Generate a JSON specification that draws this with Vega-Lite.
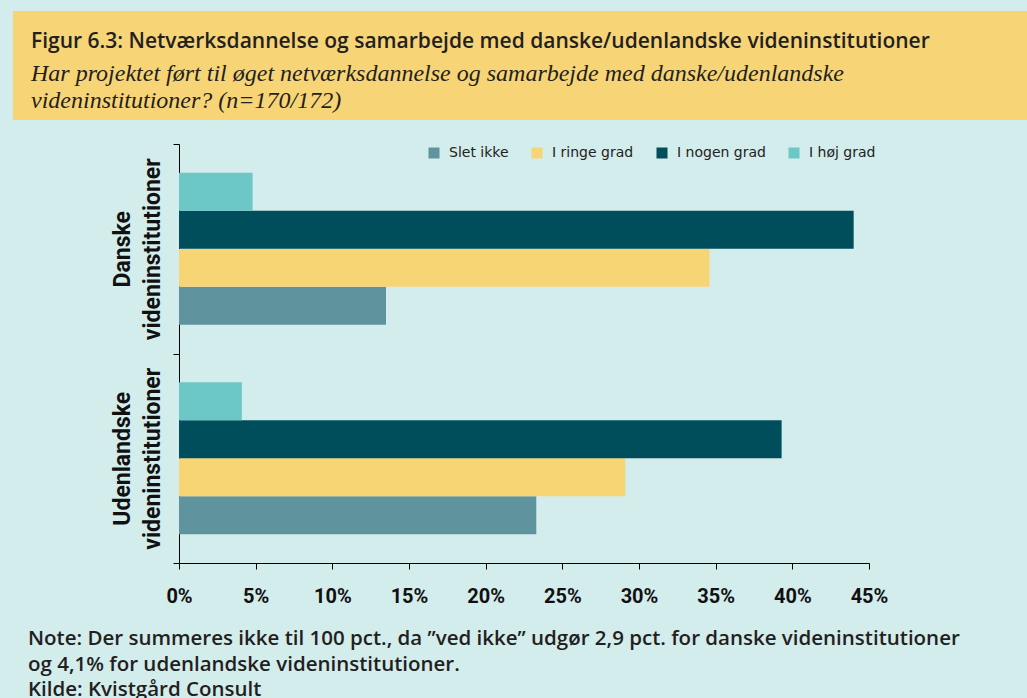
{
  "$schema": "https://vega.github.io/schema/vega-lite/v6.json",
  "background": "#d3ecec",
  "padding": {"left": 13, "top": 11, "right": 0, "bottom": 4},
  "spacing": 18,
  "resolve": {"legend": {"color": "independent"}},
  "config": {"view": {"stroke": null}},
  "title": {
    "text": ["Note: Der summeres ikke til 100 pct., da ”ved ikke” udgør 2,9 pct. for danske videninstitutioner", "og 4,1% for udenlandske videninstitutioner.", "Kilde: Kvistgård Consult"],
    "orient": "bottom", "anchor": "start", "frame": "bounds", "dx": 15, "offset": 23,
    "font": "Open Sans", "fontSize": 20.5, "fontWeight": 600, "lineHeight": 25.5, "color": "#231f20"
  },
  "vconcat": [
    {
      "width": 1014,
      "height": 109,
      "view": {"fill": "#f7d475", "stroke": null},
      "title": {
        "text": "Figur 6.3: Netværksdannelse og samarbejde med danske/udenlandske videninstitutioner",
        "subtitle": ["Har projektet ført til øget netværksdannelse og samarbejde med danske/udenlandske", "videninstitutioner? (n=170/172)"],
        "anchor": "start", "orient": "top", "frame": "group", "offset": -102, "dx": 18,
        "font": "Open Sans", "fontSize": 21, "fontWeight": 600, "color": "#231f20",
        "subtitleFont": "Liberation Serif", "subtitleFontSize": 24, "subtitleFontStyle": "italic",
        "subtitleColor": "#231f20", "subtitleLineHeight": 26.7, "subtitlePadding": 10
      },
      "data": {"values": [{"t": ""}]},
      "mark": {"type": "text"},
      "encoding": {"text": {"field": "t"}}
    },
    {
      "spacing": 0,
      "resolve": {"legend": {"color": "independent"}},
      "hconcat": [
        {
          "width": 1,
          "height": 1,
          "data": {"values": [{"t": ""}]},
          "mark": {"type": "text"},
          "encoding": {"text": {"field": "t"}}
        },
        {
          "width": 690,
          "height": 419,
          "data": {
            "values": [
              {"gruppe": "Danske videninstitutioner", "svar": "Slet ikke", "pct": 13.5},
              {"gruppe": "Danske videninstitutioner", "svar": "I ringe grad", "pct": 34.6},
              {"gruppe": "Danske videninstitutioner", "svar": "I nogen grad", "pct": 44.0},
              {"gruppe": "Danske videninstitutioner", "svar": "I høj grad", "pct": 4.8},
              {"gruppe": "Udenlandske videninstitutioner", "svar": "Slet ikke", "pct": 23.3},
              {"gruppe": "Udenlandske videninstitutioner", "svar": "I ringe grad", "pct": 29.1},
              {"gruppe": "Udenlandske videninstitutioner", "svar": "I nogen grad", "pct": 39.3},
              {"gruppe": "Udenlandske videninstitutioner", "svar": "I høj grad", "pct": 4.1}
            ]
          },
          "mark": {"type": "bar"},
          "encoding": {
            "y": {
              "field": "gruppe", "type": "nominal",
              "sort": ["Danske videninstitutioner", "Udenlandske videninstitutioner"],
              "scale": {"paddingInner": 0, "paddingOuter": 0},
              "axis": {
                "title": null, "labelExpr": "split(datum.label, ' ')",
                "labelAngle": -90, "labelAlign": "center", "labelBaseline": "bottom",
                "labelFont": "Roboto", "labelFontSize": 23, "labelFontWeight": "bold",
                "labelLineHeight": 30, "labelPadding": 39, "labelColor": "#111111",
                "labelLimit": 400,
                "tickBand": "extent", "tickSize": 6, "tickColor": "#000000",
                "domainColor": "#000000", "minExtent": 165, "grid": false
              }
            },
            "yOffset": {
              "field": "svar",
              "sort": ["I høj grad", "I nogen grad", "I ringe grad", "Slet ikke"],
              "scale": {"paddingInner": 0, "paddingOuter": 0.76}
            },
            "x": {
              "field": "pct", "type": "quantitative",
              "scale": {"domain": [0, 45], "nice": false},
              "axis": {
                "title": null, "values": [0, 5, 10, 15, 20, 25, 30, 35, 40, 45],
                "labelExpr": "datum.value + '%'", "grid": false,
                "tickSize": 6, "tickColor": "#000000", "domainColor": "#000000",
                "labelFont": "Roboto", "labelFontSize": 20, "labelFontWeight": "bold",
                "labelColor": "#111111", "labelPadding": 17, "labelFlush": false, "labelOverlap": false
              }
            },
            "color": {
              "field": "svar", "type": "nominal",
              "scale": {
                "domain": ["Slet ikke", "I ringe grad", "I nogen grad", "I høj grad"],
                "range": ["#5f949f", "#f8d574", "#004e5b", "#6cc8c6"]
              },
              "legend": {
                "orient": "none", "legendX": 248, "legendY": 2, "direction": "horizontal",
                "title": null, "symbolType": "square", "symbolSize": 121, "symbolStrokeWidth": 0,
                "labelFont": "DejaVu Sans", "labelFontSize": 14, "labelColor": "#222222",
                "labelOffset": 8, "columnPadding": 21, "padding": 0
              }
            }
          }
        }
      ]
    }
  ]
}
